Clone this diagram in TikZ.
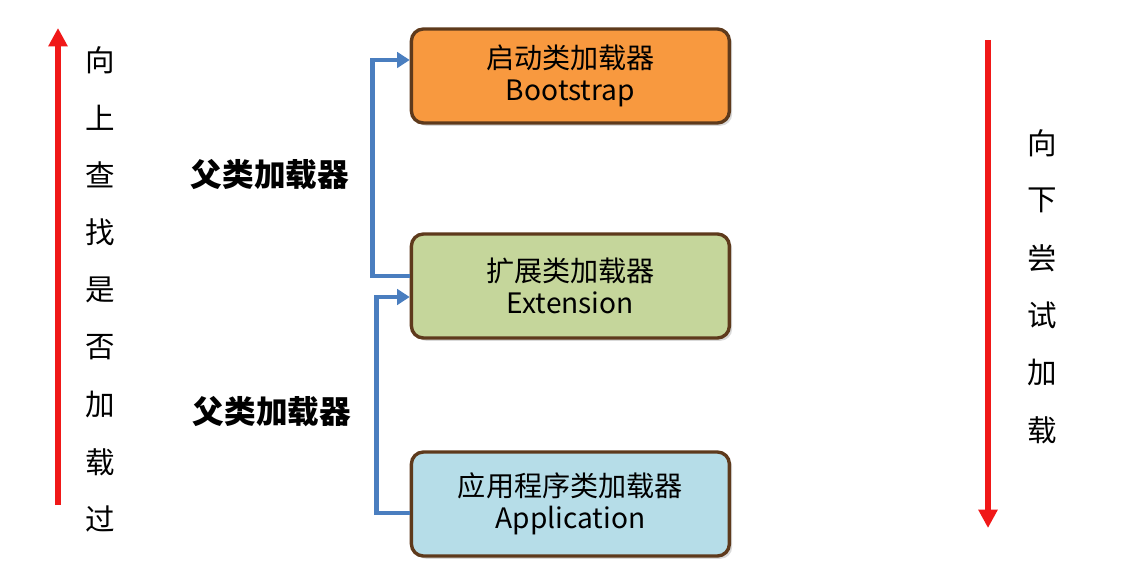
\documentclass[tikz,border=0pt]{standalone}
\usepackage{fontspec}
\setmainfont{Noto Sans CJK SC}
\newfontfamily\cjk{Noto Sans CJK SC}
\usepackage{tikz}
\usetikzlibrary{arrows.meta, positioning, calc, shadows}

\definecolor{bootfill}{HTML}{F8993F}
\definecolor{extfill}{HTML}{C5D69B}
\definecolor{appfill}{HTML}{B6DDE8}
\definecolor{boxline}{HTML}{5E3A1C}
\definecolor{linkblue}{HTML}{4A7EBF}
\definecolor{searchred}{HTML}{F01818}

\begin{document}
\begin{tikzpicture}[
    every node/.style={font=\cjk},
    box/.style={draw=boxline, line width=2.4pt, rounded corners=0.3cm,
        minimum width=7.95cm, align=center, font=\cjk\fontsize{20}{23}\selectfont,
        drop shadow={shadow xshift=2pt, shadow yshift=-2pt, opacity=0.3}},
    link/.style={-{Triangle[length=9pt, width=11pt]}, line width=3.4pt, linkblue},
    search/.style={-{Triangle[length=13pt, width=13pt]}, line width=4.2pt, searchred},
    parent/.style={font=\cjk\bfseries\fontsize{22.5}{25}\selectfont},
    side/.style={font=\cjk\fontsize{21}{25}\selectfont}
]

    \useasboundingbox (0,0) rectangle (28.7,-14.675);

    % --- loaders ---
    \node[box, fill=bootfill, minimum height=2.35cm] (boot) at (14.26,-1.9) {启动类加载器\\Bootstrap};
    \node[box, fill=extfill, minimum height=2.6cm] (ext) at (14.26,-7.15) {扩展类加载器\\Extension};
    \node[box, fill=appfill, minimum height=2.6cm] (app) at (14.26,-12.6) {应用程序类加载器\\Application};

    % --- parent links ---
    \draw[link] ([yshift=0.25cm]ext.west) -- ++(-0.925,0) |- ([yshift=0.4cm]boot.west);
    \draw[link] ([yshift=-0.225cm]app.west) -- ++(-0.825,0) |- ([yshift=-0.275cm]ext.west);
    \node[parent] (parA) at (6.75,-4.375) {父类加载器};
    \node[parent] (parB) at (6.8,-10.3) {父类加载器};

    % --- search upwards ---
    \coordinate (upS) at (1.45,-12.625);
    \coordinate (upE) at (1.45,-0.7);
    \draw[search] (upS) -- (upE);
    \foreach \c [count=\i from 0] in {向,上,查,找,是,否,加,载,过} {
        \node[side] (up-\i) at (2.5,-1.5-1.435*\i) {\c};
    }

    % --- try downwards ---
    \coordinate (downS) at (24.7,-1.0);
    \coordinate (downE) at (24.7,-13.2);
    \draw[search] (downS) -- (downE);
    \foreach \c [count=\i from 0] in {向,下,尝,试,加,载} {
        \node[side] (down-\i) at (26.05,-3.575-1.435*\i) {\c};
    }

\end{tikzpicture}
\end{document}
